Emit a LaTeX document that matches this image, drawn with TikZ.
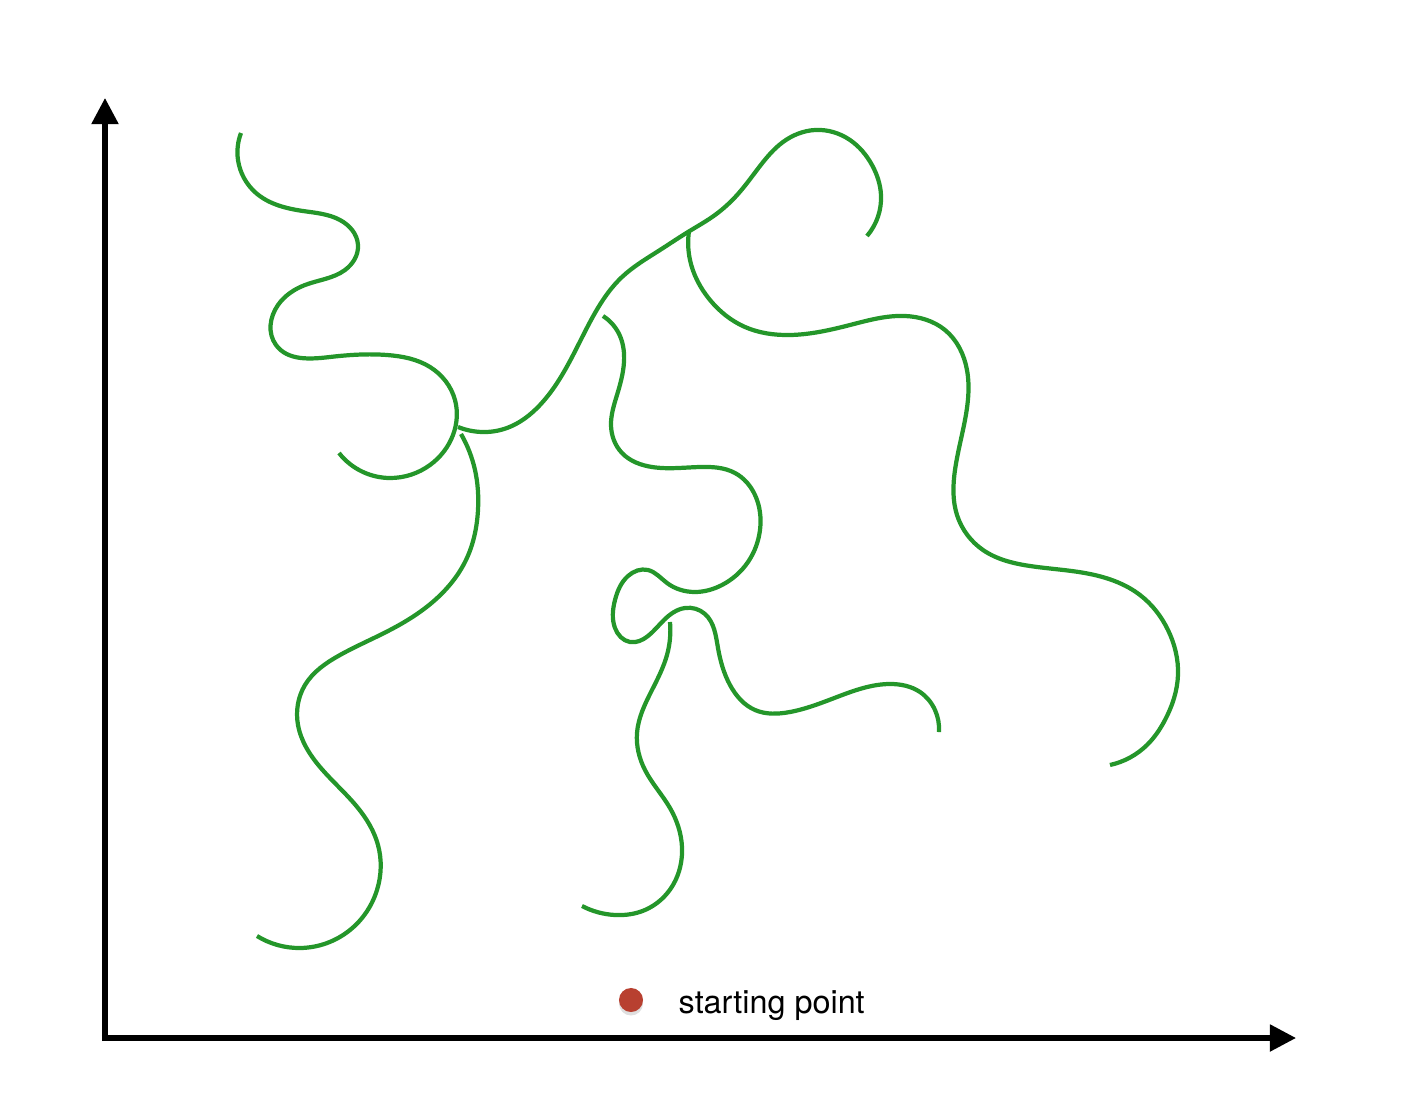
\documentclass[tikz,border=0pt]{standalone}
\usepackage{fontspec}
\setmainfont{TeX Gyre Heros}
\usetikzlibrary{arrows.meta,shadows,hobby}
\definecolor{walkgreen}{RGB}{36,150,42}
\definecolor{startred}{RGB}{184,64,48}
\tikzset{
  walk/.style={draw=walkgreen, line width=1.2pt, line cap=butt, use Hobby shortcut},
  axis/.style={line width=1.45pt, -{Triangle[length=0.26cm, width=0.26cm]}}
}
\begin{document}
\begin{tikzpicture}[x=0.01cm, y=-0.01cm]
\useasboundingbox (0,0) rectangle (1420,1112);
% Axes
\coordinate (origin) at (105,1038);
\coordinate (ytop) at (105,98);
\coordinate (xend) at (1296,1038);
\draw[axis] ([yshift=-0.03cm]origin) -- (ytop);
\draw[axis] ([xshift=-0.03cm]origin) -- (xend);
% Walks
\draw[walk] (241,133) .. (238,160) .. (256,193) .. (303,211) .. (340,220) .. (358,245) .. (345,270) .. (305,285) .. (278,305) .. (276,345) .. (330,357) .. (387,355) .. (430,367) .. (455,400) .. (453,435) .. (430,465) .. (390,478) .. (363,472) .. (339,453);
\draw[walk] (458,427) .. (482,432) .. (507,428) .. (540,405) .. (565,370) .. (590,322) .. (622,277) .. (660,250) .. (688,232) .. (715,215) .. (738,194) .. (760,166) .. (783,142) .. (815,130) .. (850,140) .. (872,165) .. (881,195) .. (867,236);
\draw[walk] (689,231) .. (690,260) .. (710,300) .. (745,327) .. (790,335) .. (850,325) .. (905,316) .. (945,330) .. (967,370) .. (965,420) .. (955,470) .. (957,515) .. (983,550) .. (1030,566) .. (1090,574) .. (1140,595) .. (1168,630) .. (1178,675) .. (1165,720) .. (1147,745) .. (1110,765);
\draw[walk] (461,434) .. (475,470) .. (478,510) .. (466,560) .. (435,600) .. (390,630) .. (340,655) .. (305,685) .. (298,725) .. (320,767) .. (358,808) .. (378,845) .. (377,890) .. (350,930) .. (300,948) .. (257,936);
\draw[walk] (603,316) .. (620,336) .. (624,362) .. (617,395) .. (611,425) .. (622,453) .. (652,467) .. (700,467) .. (735,473) .. (755,495) .. (760,530) .. (748,562) .. (722,585) .. (695,592) .. (667,583) .. (648,570) .. (628,576) .. (615,600) .. (615,628) .. (630,642) .. (648,636) .. (664,620) .. (685,608) .. (705,614) .. (718,648) .. (730,685) .. (755,710) .. (790,712) .. (837,697) .. (890,684) .. (920,692) .. (935,710) .. (939,732);
\draw[walk] (670,622) .. (667,655) .. (652,690) .. (637,733) .. (645,770) .. (670,808) .. (682,847) .. (673,885) .. (645,910) .. (615,915) .. (582,906);
% Legend
\node[circle, fill=startred, minimum size=0.24cm, inner sep=0pt,
      drop shadow={opacity=0.25, shadow xshift=0pt, shadow yshift=-1pt}] (start) at (631,1000) {};
\node[anchor=base west, inner sep=0pt, font=\fontsize{9.2}{11}\selectfont] (startlabel) at (678,1013) {starting point};
\end{tikzpicture}
\end{document}
